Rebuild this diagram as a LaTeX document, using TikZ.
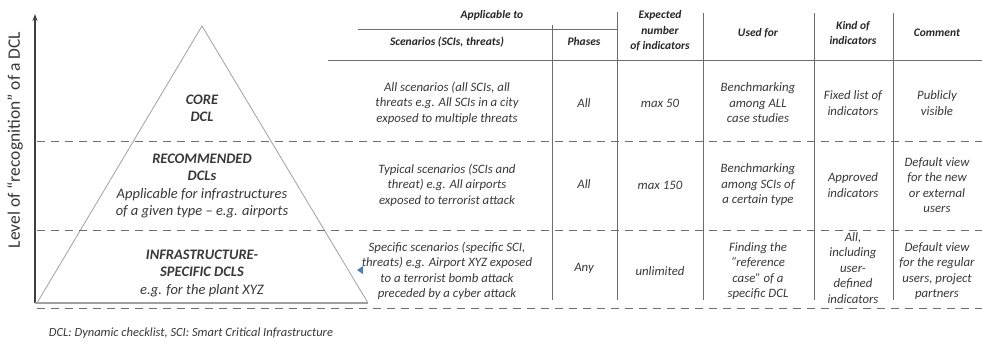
\documentclass[tikz,border=0pt]{standalone}
\usepackage{fontspec}
\setmainfont{Carlito}
\usetikzlibrary{arrows.meta, positioning}
\definecolor{linegray}{HTML}{6E6E6E}
\definecolor{trigray}{HTML}{A0A0A0}
\definecolor{txtgray}{HTML}{383838}
\definecolor{markblue}{HTML}{4F7DB5}

\begin{document}
\begin{tikzpicture}[x=1pt, y=-1pt, >={Stealth[length=7pt, width=5pt]},
  cell/.style={font=\itshape\fontsize{12.8}{15.5}\selectfont, text=txtgray, align=center, inner sep=0pt},
  head/.style={font=\bfseries\itshape\fontsize{11.5}{15.5}\selectfont, text=black!85, align=center, inner sep=0pt},
  level/.style={font=\itshape\fontsize{14.5}{17.5}\selectfont, text=txtgray, align=center, inner sep=0pt},
  grid/.style={draw=linegray, line width=1pt},
  rowline/.style={draw=linegray, line width=0.9pt, dash pattern=on 8pt off 6pt}]
  \useasboundingbox (0,0) rectangle (982,341);
  % axis and pyramid
  \coordinate (ax0) at (35,303);
  \coordinate (axtop) at (35,14);
  \coordinate (apex) at (202,26);
  \coordinate (tl) at (37,303);
  \coordinate (tr) at (368,303);
  \draw[black!75, line width=1.2pt, ->] (ax0) -- (axtop);
  \draw[trigray, line width=0.8pt] (tl) -- (apex) -- (tr);
  \draw[trigray, line width=1.2pt] (ax0) -- (tr);
  \node[rotate=90, font=\fontsize{17.5}{20}\selectfont, text=txtgray] (axlabel) at (15,140) {Level of ``recognition'' of a DCL};
  % levels of the pyramid
  \node[level] (core) at (202,108.5) {\textbf{CORE}\\\textbf{DCL}};
  \node[level] (recom) at (202,186) {\textbf{RECOMMENDED}\\\textbf{DCLs}\\Applicable for infrastructures\\of a given type -- e.g. airports};
  \node[level] (infra) at (202,273) {\textbf{INFRASTRUCTURE-}\\\textbf{SPECIFIC DCLS}\\e.g. for the plant XYZ};
  % row separators
  \foreach \y in {141, 230, 308}
    \draw[rowline] (37,\y) -- (982,\y);
  % table grid
  \draw[grid] (358,29) -- (617,29);
  \draw[grid] (328,60) -- (982,60);
  \foreach \x/\t in {552/25, 617/12, 703/13, 814/13, 893/13}
    \draw[grid] (\x,\t) -- (\x,300);
  % header
  \node[head] (applic) at (492,15) {Applicable to};
  \node[head] (hscen) at (447,42) {Scenarios (SCIs, threats)};
  \node[head] (hphase) at (584,42) {Phases};
  \node[head] (hexp) at (660,31) {Expected\\number\\of indicators};
  \node[head] (hused) at (758,33) {Used for};
  \node[head] (hkind) at (853,33) {Kind of\\indicators};
  \node[head] (hcomm) at (937,33) {Comment};
  % row 1: core
  \node[cell] (scen1) at (447,103) {All scenarios (all SCIs, all\\threats e.g. All SCIs in a city\\exposed to multiple threats};
  \node[cell] (phase1) at (584,103) {All};
  \node[cell] (exp1) at (660,103) {max 50};
  \node[cell] (used1) at (758,103) {Benchmarking\\among ALL\\case studies};
  \node[cell] (kind1) at (853,103) {Fixed list of\\indicators};
  \node[cell] (comm1) at (937,103) {Publicly\\visible};
  % row 2: recommended
  \node[cell] (scen2) at (447,185) {Typical scenarios (SCIs and\\threat) e.g. All airports\\exposed to terrorist attack};
  \node[cell] (phase2) at (584,184) {All};
  \node[cell] (exp2) at (660,185) {max 150};
  \node[cell] (used2) at (758,185) {Benchmarking\\among SCIs of\\a certain type};
  \node[cell] (kind2) at (853,185) {Approved\\indicators};
  \node[cell] (comm2) at (937,185) {Default view\\for the new\\or external\\users};
  % row 3: infrastructure-specific
  \node[cell] (scen3) at (447,271) {Specific scenarios (specific SCI,\\threats) e.g. Airport XYZ exposed\\to a terrorist bomb attack\\preceded by a cyber attack};
  \node[cell] (phase3) at (584,268) {Any};
  \node[cell] (exp3) at (660,271) {unlimited};
  \node[cell] (used3) at (758,271) {Finding the\\``reference\\case'' of a\\specific DCL};
  \node[cell] (kind3) at (853,268) {All,\\including\\user-\\defined\\indicators};
  \node[cell] (comm3) at (937,271) {Default view\\for the regular\\users, project\\partners};
  % marker
  \fill[markblue] (357,270) -- (363,266) -- (363,274) -- cycle;
  % footnote
  \node[font=\itshape\fontsize{12.5}{14}\selectfont, text=txtgray] (foot) at (191,333) {DCL: Dynamic checklist, SCI: Smart Critical Infrastructure};
\end{tikzpicture}
\end{document}
